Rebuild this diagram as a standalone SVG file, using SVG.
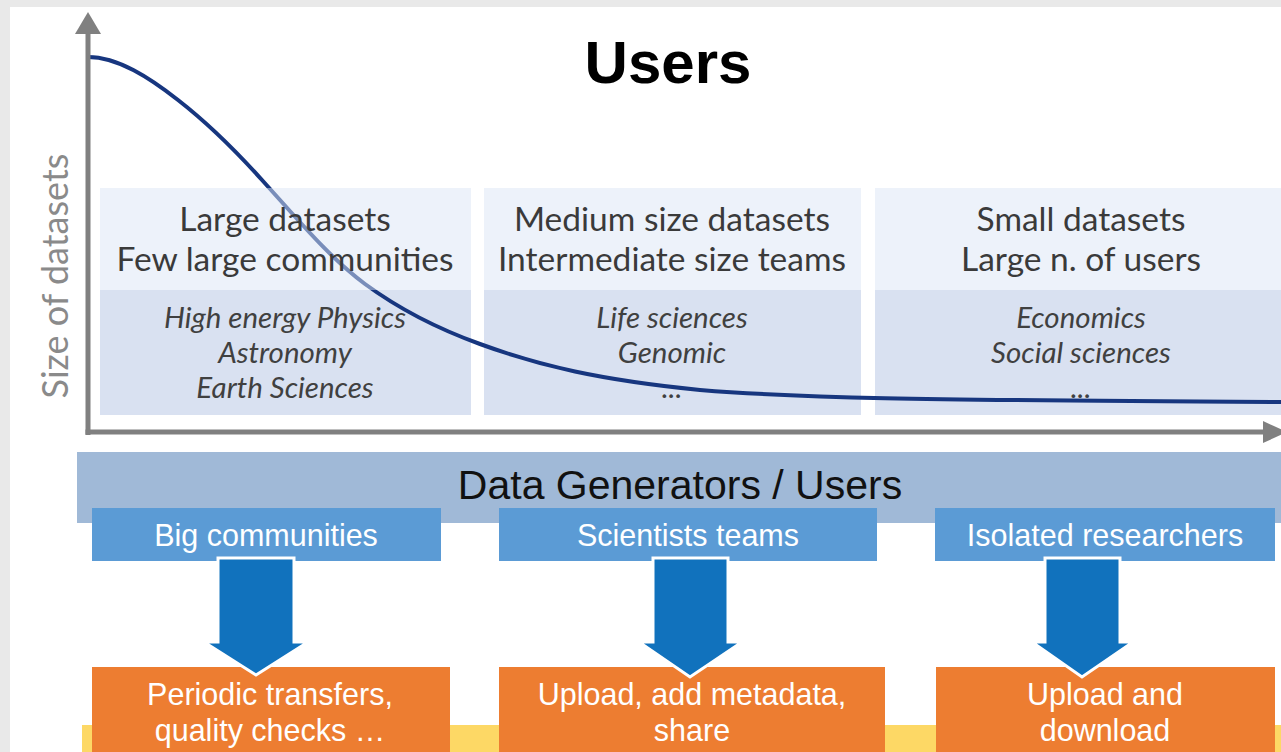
<svg xmlns="http://www.w3.org/2000/svg" width="1281" height="752" viewBox="0 0 1281 752">
<style>
.hd{font-family:Lato,"Open Sans",sans-serif;font-size:33.5px;fill:#3a3a3a;text-anchor:middle}
.it{font-family:Lato,"Open Sans",sans-serif;font-size:29.5px;font-style:italic;fill:#404040;text-anchor:middle}
.bl{font-family:"Liberation Sans",Arial,sans-serif;font-size:30.5px;fill:#fff;text-anchor:middle}
.or{font-family:"Liberation Sans",Arial,sans-serif;font-size:30.5px;fill:#fff;text-anchor:middle}
.ptop{fill:#dbe5f5;opacity:0.5}
.pbot{fill:#d9e1f1}
.bbox{fill:#5b9bd5}
.obox{fill:#ed7d31}
.arr{fill:#1172bd;stroke:#fff;stroke-width:3;stroke-linejoin:miter}
</style>
<rect x="0" y="0" width="1281" height="752" fill="#e9e9e9"/>
<rect x="10" y="7" width="1271" height="745" fill="#fff"/>

<g id="title"><text x="668" y="83" font-family="Liberation Sans,Arial,sans-serif" font-size="60" font-weight="bold" fill="#000" text-anchor="middle">Users</text></g>

<g id="ylabel"><text transform="translate(68,276) rotate(-90)" font-family="Lato,'Open Sans',sans-serif" font-size="36" fill="#8a8a8a" text-anchor="middle">Size of datasets</text></g>

<g id="panel-bottoms">
<rect class="pbot" x="100" y="290" width="371" height="125"/>
<rect class="pbot" x="484" y="290" width="377" height="125"/>
<rect class="pbot" x="875" y="290" width="406" height="125"/>
</g>

<g id="curve"><path d="M88,57 C118,57 150,78 178,100 C205,121 235,150 262,180 C300,222 330,258 365,284 C395,306 430,326 480,344 C540,366 600,380 700,390 C800,398 900,400 1281,402" fill="none" stroke="#17367f" stroke-width="4"/></g>

<g id="panel-large">
<rect class="ptop" x="100" y="188" width="371" height="102"/>
<text class="hd" x="285" y="231">Large datasets</text>
<text class="hd" x="285" y="271">Few large communities</text>
<text class="it" x="285" y="328">High energy Physics</text>
<text class="it" x="285" y="363">Astronomy</text>
<text class="it" x="285" y="398">Earth Sciences</text>
</g>
<g id="panel-medium">
<rect class="ptop" x="484" y="188" width="377" height="102"/>
<text class="hd" x="672" y="231">Medium size datasets</text>
<text class="hd" x="672" y="271">Intermediate size teams</text>
<text class="it" x="672" y="328">Life sciences</text>
<text class="it" x="672" y="363">Genomic</text>
<text class="it" x="672" y="398">...</text>
</g>
<g id="panel-small">
<rect class="ptop" x="875" y="188" width="406" height="102"/>
<text class="hd" x="1081" y="231">Small datasets</text>
<text class="hd" x="1081" y="271">Large n. of users</text>
<text class="it" x="1081" y="328">Economics</text>
<text class="it" x="1081" y="363">Social sciences</text>
<text class="it" x="1081" y="398">...</text>
</g>

<g id="axes" fill="#808080" stroke="none">
<rect x="85.5" y="30" width="5" height="405"/>
<polygon points="88,12 75,34 101,34"/>
<rect x="85.5" y="429.5" width="1180" height="5"/>
<polygon points="1287,432 1263,421 1263,443"/>
</g>

<g id="band"><rect x="77" y="452" width="1204" height="71" fill="#a0b9d7"/>
<text x="680" y="499" font-family="Liberation Sans,Arial,sans-serif" font-size="41" fill="#111" text-anchor="middle">Data Generators / Users</text></g>

<rect id="yellow" x="82" y="725" width="1199" height="27" fill="#fdd865"/>

<g id="big-communities"><rect class="bbox" x="92" y="508" width="349" height="53"/><text class="bl" x="266" y="546">Big communities</text></g>
<g id="scientists-teams"><rect class="bbox" x="499" y="508" width="378" height="53"/><text class="bl" x="688" y="546">Scientists teams</text></g>
<g id="isolated-researchers"><rect class="bbox" x="935" y="508" width="340" height="53"/><text class="bl" x="1105" y="546">Isolated researchers</text></g>

<g id="periodic"><rect class="obox" x="92" y="667" width="358" height="85"/><text class="or" x="270" y="705">Periodic transfers,</text><text class="or" x="270" y="741">quality checks …</text></g>
<g id="upload-share"><rect class="obox" x="499" y="667" width="386" height="85"/><text class="or" x="692" y="705">Upload, add metadata,</text><text class="or" x="692" y="741">share</text></g>
<g id="upload-download"><rect class="obox" x="936" y="667" width="339" height="85"/><text class="or" x="1105" y="705">Upload and</text><text class="or" x="1105" y="741">download</text></g>

<g id="connectors">
<polygon class="arr" points="218,558 294,558 294,642 308,642 256,675 204,642 218,642"/>
<polygon class="arr" points="653,558 728,558 728,642 742,642 690,677 639,642 653,642"/>
<polygon class="arr" points="1045,558 1120,558 1120,642 1133,642 1082,677 1032,642 1045,642"/>
</g>
</svg>
